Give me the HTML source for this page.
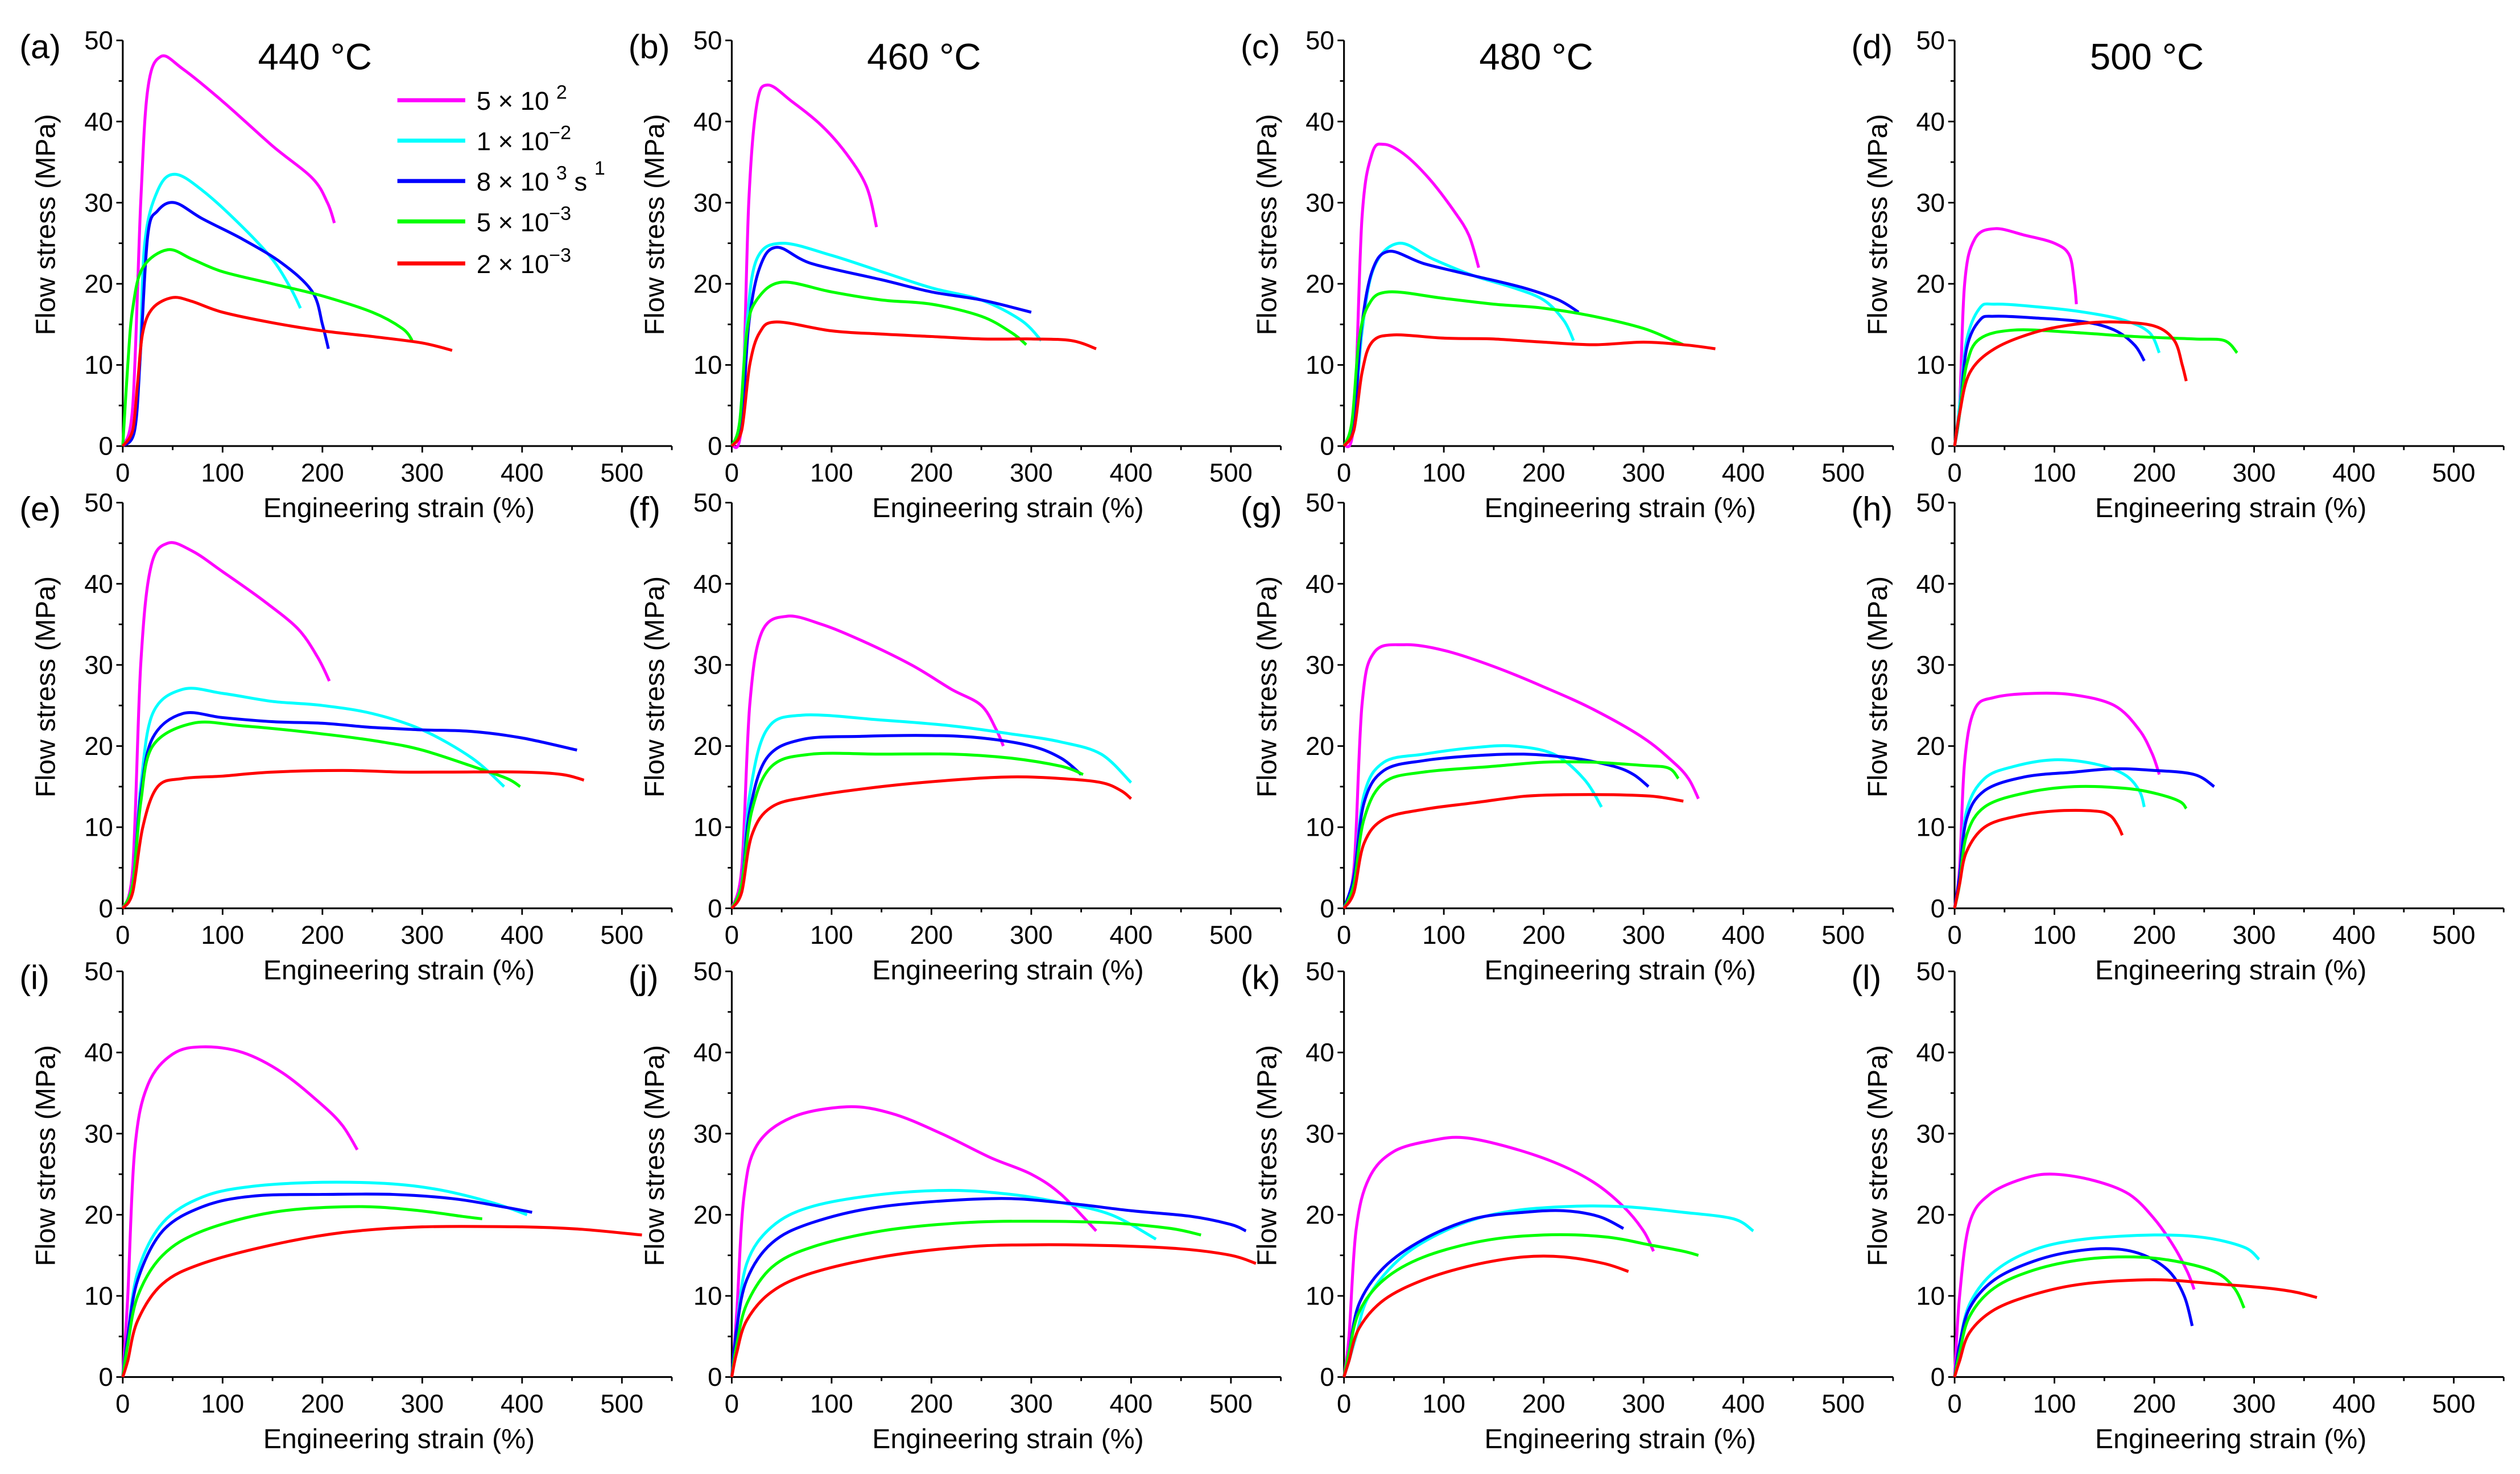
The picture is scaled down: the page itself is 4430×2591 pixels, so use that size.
<!DOCTYPE html>
<html><head><meta charset="utf-8">
<style>
html,body{margin:0;padding:0;background:#fff;}
svg{display:block;font-family:"Liberation Sans",Arial,sans-serif;}
</style></head>
<body>
<svg id="fig" width="4430" height="2591" viewBox="0 0 1560 912" preserveAspectRatio="none" xmlns="http://www.w3.org/2000/svg"></svg>
<script>
// ---- data (strain %, stress MPa); series order: 5e-2, 1e-2, 8e-3, 5e-3, 2e-3 ----
const seriesNames = ["rate-5e-2","rate-1e-2","rate-8e-3","rate-5e-3","rate-2e-3"];
const panelLetters = ["(a)","(b)","(c)","(d)","(e)","(f)","(g)","(h)","(i)","(j)","(k)","(l)"];
const temperatures = ["440 °C","460 °C","480 °C","500 °C"];
const xTicks = [0,100,200,300,400,500];
const yTicks = [0,10,20,30,40,50];

const panelA = [
 [[0,0],[10,5],[18,30],[25,44],[38,48],[60,46.5],[100,42.5],[150,37],[190,33],[205,30],[212,27.5]],
 [[0,0],[10,2],[17,10],[22,25],[35,31.5],[52,33.5],[80,31.5],[120,27],[150,23],[168,19.5],[178,17]],
 [[0,0],[12,2],[18,12],[25,26],[35,29],[52,30],[80,28],[120,25.5],[160,22.5],[190,19],[200,15],[206,12]],
 [[0,0],[5,10],[10,17],[20,22],[45,24.2],[70,23],[100,21.5],[150,20],[200,18.5],[250,16.5],[280,14.5],[290,13]],
 [[0,0],[10,2],[15,8],[20,14],[30,17],[50,18.3],[70,17.8],[100,16.5],[150,15.2],[200,14.2],[250,13.5],[300,12.7],[330,11.8]]];
const panelB = [
 [[0,0],[10,3],[17,30],[25,42],[36,44.5],[60,42.5],[90,39.5],[115,36],[135,32],[145,27]],
 [[0,0],[8,3],[15,15],[25,23],[50,25],[100,23.5],[150,21.5],[200,19.5],[250,18],[290,15.5],[310,13]],
 [[0,0],[10,3],[17,15],[28,22],[45,24.5],[80,22.5],[150,20.5],[200,19],[250,18],[300,16.5]],
 [[0,0],[8,3],[15,14],[25,18],[50,20.2],[100,19],[150,18],[200,17.5],[250,16],[280,14],[295,12.5]],
 [[0,0],[10,2],[18,10],[28,14],[45,15.3],[100,14.2],[150,13.8],[200,13.5],[250,13.2],[300,13.2],[340,13],[365,12]]];
const panelC = [
 [[0,0],[10,3],[18,28],[28,36],[40,37.2],[60,36],[85,33],[110,29],[125,26],[135,22]],
 [[0,0],[10,3],[18,14],[30,22],[55,25],[90,23],[130,21],[170,19.5],[200,18],[220,15.5],[230,13]],
 [[0,0],[10,3],[17,14],[28,21.5],[45,24],[80,22.5],[130,21],[180,19.5],[215,18],[235,16.5]],
 [[0,0],[8,3],[15,13],[25,17.5],[45,19],[100,18.2],[150,17.5],[200,17],[250,16],[300,14.5],[330,13],[340,12.5]],
 [[0,0],[10,2],[18,9],[28,12.8],[50,13.7],[100,13.3],[150,13.2],[200,12.8],[250,12.5],[300,12.8],[340,12.5],[372,12]]];
const panelD = [
 [[0,0],[5,5],[10,20],[20,25.5],[40,26.8],[70,26],[100,25],[115,23.5],[120,20],[122,17.5]],
 [[0,0],[5,5],[12,13],[25,17],[40,17.5],[80,17.2],[130,16.5],[170,15.5],[195,14],[205,11.5]],
 [[0,0],[5,4],[12,12],[25,15.5],[40,16],[80,15.8],[130,15.3],[160,14.3],[180,12.5],[190,10.5]],
 [[0,0],[5,4],[12,10],[25,13.2],[60,14.3],[120,14],[180,13.5],[240,13.2],[270,13],[283,11.5]],
 [[0,0],[5,4],[15,9],[40,12],[80,14],[120,15],[160,15.3],[200,14.8],[220,13],[228,10],[232,8]]];
const panelE = [
 [[0,0],[10,5],[18,30],[28,42],[45,45],[70,44],[100,41.5],[140,38],[175,34.5],[195,31],[207,28]],
 [[0,0],[10,3],[18,15],[30,24],[60,27],[100,26.5],[150,25.5],[200,25],[250,24],[300,22],[350,18.5],[382,15]],
 [[0,0],[10,3],[18,14],[30,21],[60,24],[100,23.5],[150,23],[200,22.8],[250,22.3],[300,22],[350,21.8],[400,21],[455,19.5]],
 [[0,0],[10,3],[18,13],[30,20],[70,22.8],[120,22.5],[200,21.5],[260,20.5],[300,19.5],[350,17.5],[385,16],[398,15]],
 [[0,0],[10,2],[20,10],[35,15],[60,16],[100,16.3],[150,16.8],[220,17],[280,16.8],[330,16.8],[400,16.8],[440,16.5],[462,15.8]]];
const panelF = [
 [[0,0],[10,5],[18,25],[30,34],[55,36],[90,35],[130,33],[180,30],[220,27],[250,25],[265,22],[272,20]],
 [[0,0],[10,3],[18,14],[35,22],[70,23.8],[150,23.2],[220,22.5],[280,21.5],[330,20.5],[370,19],[400,15.5]],
 [[0,0],[10,3],[18,12],[35,18.5],[70,20.8],[130,21.2],[200,21.3],[250,21],[300,20],[330,18.5],[350,16.5]],
 [[0,0],[10,3],[20,12],[40,17.5],[80,19],[150,19],[220,19],[280,18.5],[330,17.5],[352,16.5]],
 [[0,0],[10,2],[20,9],[40,12.5],[80,13.8],[150,15],[220,15.8],[280,16.2],[330,16],[370,15.5],[390,14.5],[400,13.5]]];
const panelG = [
 [[0,0],[10,5],[18,25],[30,31.5],[60,32.5],[100,31.8],[150,29.8],[200,27.3],[250,24.5],[300,21],[330,18],[345,16],[355,13.5]],
 [[0,0],[10,4],[20,14],[40,18],[80,19],[130,19.8],[170,20],[210,19],[240,16],[258,12.5]],
 [[0,0],[10,4],[20,13],[40,17],[80,18.2],[130,18.8],[180,19],[230,18.5],[270,17.5],[290,16.5],[305,15]],
 [[0,0],[10,3],[20,11],[40,15.5],[80,16.8],[150,17.5],[200,18],[250,18],[300,17.6],[325,17.3],[335,16]],
 [[0,0],[10,2],[20,8],[40,11],[80,12.2],[130,13],[180,13.8],[220,14],[270,14],[310,13.8],[340,13.2]]];
const panelH = [
 [[0,0],[5,5],[10,18],[20,24.5],[40,26],[80,26.5],[120,26.3],[160,25],[185,22],[198,19],[205,16.5]],
 [[0,0],[5,4],[12,12],[30,16],[60,17.5],[100,18.3],[140,17.8],[170,16.5],[185,14.5],[190,12.5]],
 [[0,0],[5,4],[12,11],[30,14.5],[70,16.2],[120,16.8],[160,17.2],[200,17],[240,16.5],[260,15]],
 [[0,0],[5,3],[12,9],[30,12.5],[70,14.2],[120,15],[170,14.8],[200,14.2],[225,13.2],[232,12.3]],
 [[0,0],[5,3],[12,7],[30,10],[60,11.3],[100,12],[140,12],[155,11.5],[163,10.3],[168,9]]];
const panelI = [
 [[0,0],[5,10],[12,28],[25,36],[50,39.8],[80,40.7],[120,40],[160,37.5],[200,33.5],[220,31],[235,28]],
 [[0,0],[5,5],[15,13],[40,19],[80,22.2],[130,23.5],[200,24],[270,23.8],[320,23],[370,21.5],[405,20]],
 [[0,0],[5,5],[15,12],[40,18],[80,21],[130,22.3],[200,22.5],[270,22.5],[330,22],[380,21],[410,20.3]],
 [[0,0],[5,4],[15,10],[40,15],[80,18],[150,20.3],[230,21],[290,20.6],[340,19.8],[360,19.5]],
 [[0,0],[5,2],[15,7],[40,11.5],[80,14],[150,16.3],[220,17.8],[300,18.5],[400,18.5],[460,18.2],[520,17.5]]];
const panelJ = [
 [[0,0],[5,8],[12,22],[25,28.5],[60,32],[115,33.3],[160,32.5],[210,30],[260,27],[300,25],[330,22.5],[365,18]],
 [[0,0],[5,6],[15,14],[40,18.5],[80,21],[150,22.5],[220,23],[280,22.5],[330,21.5],[380,20],[425,17]],
 [[0,0],[5,6],[15,12],[40,16.5],[80,19],[150,21],[260,22],[330,21.5],[400,20.5],[460,19.8],[500,18.8],[515,18]],
 [[0,0],[5,4],[15,9],[40,13.5],[80,16],[150,18],[230,19],[300,19.2],[380,19],[440,18.3],[470,17.5]],
 [[0,0],[5,3],[15,7],[40,10.5],[80,12.8],[150,14.8],[230,16],[300,16.3],[380,16.2],[450,15.8],[500,15],[525,14]]];
const panelK = [
 [[0,0],[5,5],[12,18],[25,24.5],[50,27.8],[90,29.2],[120,29.5],[160,28.5],[210,26.5],[250,24],[280,21],[300,18],[310,15.5]],
 [[0,0],[5,2],[12,5],[25,10],[60,15],[110,18.5],[160,20.3],[220,21],[280,21],[340,20.3],[390,19.5],[410,18]],
 [[0,0],[5,3],[15,9],[40,13.5],[80,17],[130,19.5],[180,20.3],[220,20.5],[255,19.8],[280,18.3]],
 [[0,0],[5,3],[15,8],[40,12],[80,14.8],[140,16.8],[200,17.5],[260,17.3],[310,16.2],[340,15.5],[355,15]],
 [[0,0],[5,2],[15,6],[40,9.5],[80,12],[130,13.8],[180,14.8],[220,14.8],[260,14],[285,13]]];
const panelL = [
 [[0,0],[5,10],[15,19],[35,22.5],[70,24.5],[100,25],[140,24.2],[175,22.5],[200,19.5],[220,16],[233,13],[240,10.8]],
 [[0,0],[5,4],[15,9],[40,13],[80,15.7],[130,17],[200,17.5],[250,17.2],[290,16],[305,14.5]],
 [[0,0],[5,4],[15,8.5],[40,12],[80,14.3],[120,15.5],[160,15.8],[190,15],[215,13],[230,10],[238,6.3]],
 [[0,0],[5,3],[15,7.5],[40,11],[80,13.2],[130,14.5],[180,14.8],[220,14.3],[260,13],[280,11],[290,8.5]],
 [[0,0],[5,2],[15,5.5],[40,8.3],[80,10.2],[130,11.5],[200,12],[260,11.5],[310,11],[340,10.5],[363,9.8]]];
const panels = [panelA,panelB,panelC,panelD,panelE,panelF,panelG,panelH,panelI,panelJ,panelK,panelL];

// ---- layout ----
const colors = ["#ff00ff","#00ffff","#0000ff","#00ff00","#ff0000"];
const colX0 = [76,453,832,1210];
const rowY0 = [276,562,852];
const pxPer100 = 61.8, pxPerMPa = 5.02;
const NS = "http://www.w3.org/2000/svg";
const svg = document.getElementById('fig');
function mk(tag, attrs, parent){const e=document.createElementNS(NS,tag);for(const k in attrs)e.setAttribute(k,attrs[k]);(parent||svg).appendChild(e);return e;}
function smoothPath(pts){
  let d='M'+pts[0][0].toFixed(1)+','+pts[0][1].toFixed(1);
  const t=0.25;
  for(let i=0;i<pts.length-1;i++){
    const p0=pts[Math.max(0,i-1)],p1=pts[i],p2=pts[i+1],p3=pts[Math.min(pts.length-1,i+2)];
    const c1x=p1[0]+(p2[0]-p0[0])*t/1.5, c1y=p1[1]+(p2[1]-p0[1])*t/1.5;
    const c2x=p2[0]-(p3[0]-p1[0])*t/1.5, c2y=p2[1]-(p3[1]-p1[1])*t/1.5;
    d+=` C${c1x.toFixed(1)},${c1y.toFixed(1)} ${c2x.toFixed(1)},${c2y.toFixed(1)} ${p2[0].toFixed(1)},${p2[1].toFixed(1)}`;
  }
  return d;
}

panels.forEach((data,i)=>{
  const col=i%4,row=Math.floor(i/4);
  const x0=colX0[col], y0=rowY0[row];
  const sx=v=>x0+v*pxPer100/100, sy=v=>y0-v*pxPerMPa;
  const g=mk('g',{});
  
  
  const ax=mk('path',{d:`M${x0},${sy(50)} V${y0} H${sx(550)}`,stroke:'#000','stroke-width':1.1,fill:'none'},g);
  
  
  for(let v=0;v<=50;v+=5){
    const major=v%10===0;
    mk('line',{x1:x0-(major?4:2.5),x2:x0,y1:sy(v),y2:sy(v),stroke:'#000','stroke-width':1},g);
  }
  for(let v=0;v<=550;v+=50){
    const major=v%100===0;
    mk('line',{x1:sx(v),x2:sx(v),y1:y0,y2:y0+(major?4:2.5),stroke:'#000','stroke-width':1},g);
  }
  yTicks.forEach(v=>{
    const t=mk('text',{x:x0-6,y:sy(v)+5.5,'text-anchor':'end','font-size':16},g);t.textContent=v;
    
    
  });
  xTicks.forEach(v=>{
    const t=mk('text',{x:sx(v),y:y0+22,'text-anchor':'middle','font-size':16},g);t.textContent=v;
    
    
  });
  const xt=mk('text',{x:x0+171,y:y0+44,'text-anchor':'middle','font-size':17},g);xt.textContent='Engineering strain (%)';
  
  
  const yt=mk('text',{x:0,y:0,'text-anchor':'middle','font-size':17,transform:`translate(${x0-42},${y0-137}) rotate(-90)`},g);yt.textContent='Flow stress (MPa)';
  
  
  const pl=mk('text',{x:x0-64,y:sy(50)+11,'font-size':21},g);pl.textContent=panelLetters[i];
  
  
  if(row===0){
    const tt=mk('text',{x:x0+119,y:43,'text-anchor':'middle','font-size':23},g);tt.textContent=temperatures[col];
    
    
  }
  data.forEach((s,k)=>{
    const p=mk('path',{d:smoothPath(s.map(d=>[sx(d[0]),sy(d[1])])),fill:'none',stroke:colors[k],'stroke-width':1.8,'stroke-linejoin':'round'},g);
    
    
  });
});
</script>
<svg style="position:absolute;left:0;top:0" width="4430" height="2591" viewBox="0 0 1560 912" preserveAspectRatio="none" xmlns="http://www.w3.org/2000/svg" font-family="Liberation Sans, Arial, sans-serif">
  <g><line x1="246" x2="288" y1="62" y2="62" stroke="#ff00ff" stroke-width="2.5"/><text x="295" y="68" font-size="16">5 × 10 <tspan dy="-7" font-size="12">2</tspan></text></g>
  <g><line x1="246" x2="288" y1="87" y2="87" stroke="#00ffff" stroke-width="2.5"/><text x="295" y="93" font-size="16">1 × 10<tspan dy="-7" font-size="12">−2</tspan></text></g>
  <g><line x1="246" x2="288" y1="112" y2="112" stroke="#0000ff" stroke-width="2.5"/><text x="295" y="118" font-size="16">8 × 10 <tspan dy="-7" font-size="12">3</tspan><tspan dy="7"> s </tspan><tspan dy="-10" font-size="12">1</tspan></text></g>
  <g><line x1="246" x2="288" y1="137" y2="137" stroke="#00ff00" stroke-width="2.5"/><text x="295" y="143" font-size="16">5 × 10<tspan dy="-7" font-size="12">−3</tspan></text></g>
  <g><line x1="246" x2="288" y1="163" y2="163" stroke="#ff0000" stroke-width="2.5"/><text x="295" y="169" font-size="16">2 × 10<tspan dy="-7" font-size="12">−3</tspan></text></g>
</svg>
</body></html>
